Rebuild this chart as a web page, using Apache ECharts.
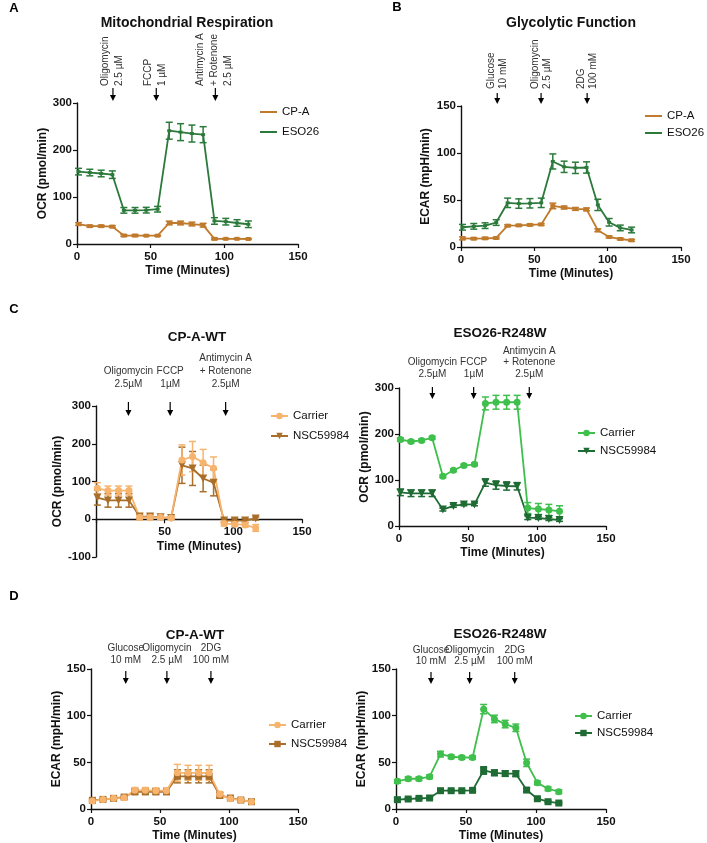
<!DOCTYPE html>
<html><head><meta charset="utf-8">
<script src="https://cdn.jsdelivr.net/npm/echarts/dist/echarts.min.js"></script>
<style>html,body{margin:0;padding:0;background:#fff}#c{width:707px;height:843px}</style>
</head><body><div id="c"></div>
<script>
// ---------------- DATA ----------------
const TIME = [1, 8.7, 16.4, 24, 31.8, 39.4, 47, 54.7, 62.6, 70.3, 78, 85.6, 93.3, 101, 108.6, 116.3];
const X_TICKS = [0, 50, 100, 150];

// Panel A: Mitochondrial Respiration (OCR)
const A_CPA = [42.5, 38, 38, 37, 18, 18, 17.7, 17.7, 44.7, 44.7, 42.5, 40, 11, 11, 11, 10.6];
const A_CPA_ERR = [3, 2, 2, 2, 2, 2, 1, 1, 4, 4, 4, 4, 2, 1, 1, 1];
const A_ESO = [154, 152, 150, 147.5, 71.6, 71.6, 72, 74, 241, 238, 235, 232.6, 49, 47.5, 44.7, 42];
const A_ESO_ERR = [7, 7, 7, 8, 6, 6, 6, 6, 18, 18, 18, 17, 7, 7, 7, 7];
const A_ARROWS = [24.4, 53.8, 93.9];
const A_LABELS = [["Oligomycin", "2.5 \u00b5M"], ["FCCP", "1 \u00b5M"], ["Antimycin A", "+ Rotenone", "2.5 \u00b5M"]];

// Panel B: Glycolytic Function (ECAR)
const B_CPA = [9.2, 8.9, 9.2, 9.6, 22.7, 23, 23.5, 24, 43.7, 42, 40.5, 40, 17.8, 10.7, 8.5, 7.1];
const B_CPA_ERR = [1.5, 1, 1, 1, 1, 1, 1, 1, 3, 1.5, 1.5, 1.5, 1.5, 1, 1, 1];
const B_ESO = [21, 22, 22.7, 26, 47, 46.2, 46.5, 47, 91, 85.3, 84.2, 84.6, 44.8, 26.3, 20.3, 18.1];
const B_ESO_ERR = [3, 3, 3, 3, 5, 5, 5, 5, 8, 6, 6, 6, 6, 4, 3, 3];
const B_ARROWS = [24.7, 54.6, 86];
const B_LABELS = [["Glucose", "10 mM"], ["Oligomycin", "2.5 \u00b5M"], ["2DG", "100 mM"]];

// Panel C left: CP-A-WT OCR
const CL_CAR = [82, 76, 76, 76, 5, 5, 5, 3.5, 157, 166, 150, 135, -11.5, -13, -15, -23];
const CL_CAR_ERR = [15, 12, 12, 12, 7, 7, 5, 4, 40, 40, 35, 30, 6, 6, 6, 9];
const CL_NSC = [57.5, 50, 50, 50, 7, 7, 5, 3.5, 143, 134.5, 108, 97, -3.5, -3.5, -3.5, 2];
const CL_NSC_ERR = [20, 18, 18, 18, 5, 5, 4, 3, 48, 45, 35, 35, 5, 5, 5, 4];
const CL_ARROWS = [23.6, 54, 94.4];
// Panel C right: ESO26-R248W OCR
const CR_CAR = [188, 183.7, 186, 191.7, 108, 121, 131.4, 134, 266.5, 269, 269, 269, 39, 37, 35, 32];
const CR_CAR_ERR = [4, 3, 3, 3, 3, 3, 3, 3, 14, 15, 15, 15, 12, 12, 12, 12];
const CR_NSC = [73, 71, 71, 71, 35.6, 43.6, 47, 47, 94.4, 89, 87, 86.4, 18, 17.4, 15, 13];
const CR_NSC_ERR = [7, 7, 7, 7, 3, 3, 3, 3, 8, 9, 9, 8, 4, 3, 3, 3];
const CR_ARROWS = [24.2, 54.1, 94.4];
const C_LABELS = [["Oligomycin", "2.5\u00b5M"], ["FCCP", "1\u00b5M"], ["Antimycin A", "+ Rotenone", "2.5\u00b5M"]];

// Panel D left: CP-A-WT ECAR
const DL_CAR = [8.5, 10.3, 11.4, 12, 20, 20, 19.6, 19.6, 38.8, 38.8, 38.8, 38.8, 15.7, 11, 9.6, 7.8];
const DL_CAR_ERR = [1, 1, 1, 1, 3, 3, 3, 3, 9, 8, 8, 8, 3, 1, 1, 1];
const DL_NSC = [9.3, 10.3, 11.4, 12.8, 18.5, 18.5, 18.5, 18.5, 35, 35, 35, 35, 14.6, 11.8, 9.6, 7.8];
const DL_NSC_ERR = [1, 1, 1, 1, 3, 3, 3, 3, 7, 7, 7, 7, 3, 1, 1, 1];
const DL_ARROWS = [25.2, 55, 86.9];
// Panel D right: ESO26-R248W ECAR
const DR_CAR = [29.6, 32.4, 32.4, 34.6, 58.8, 56, 55.2, 55.2, 107, 96.5, 91, 87, 49.5, 28, 21.7, 18.5];
const DR_CAR_ERR = [2, 2, 2, 2, 3, 2, 2, 2, 5, 4, 4, 4, 4, 2, 2, 2];
const DR_NSC = [10, 10.7, 11.4, 11.8, 19.6, 19.6, 19.6, 20, 41.3, 38.8, 38, 37.8, 20.3, 11, 7.8, 6.4];
const DR_NSC_ERR = [2, 1, 1, 1, 1, 1, 1, 1, 4, 3, 3, 3, 2, 1, 1, 1];
const DR_ARROWS = [25, 52.6, 84.8];
const D_LABELS = [["Glucose", "10 mM"], ["Oligomycin", "2.5 \u00b5M"], ["2DG", "100 mM"]];

// ---------------- STYLE / LAYOUT ----------------
const FONT = "'Liberation Sans', Arial, Helvetica, sans-serif";
const COL = {
  cpa: '#C07A2C', eso: '#2B7A3B',
  cpaCar: '#F7B46E', cpaNsc: '#A86E2A',
  esoCar: '#3FBF4C', esoNsc: '#1F6B34'
};

const panels = [
  { grid: {left: 77, top: 103, width: 221, height: 141}, y: [0, 300, 100], yName: 'OCR (pmol/min)', yGap: 28,
    arrows: A_ARROWS, labels: A_LABELS, mode: 'v', colSp: 14, colDx: -1, txtOff: -17, arr: [-15, -2],
    legend: {left: 260, top: 105, gap: 6, icon: 'rect'},
    series: [
      {name: 'CP-A', v: A_CPA, e: A_CPA_ERR, c: COL.cpa, sym: 'rect', size: [5, 4]},
      {name: 'ESO26', v: A_ESO, e: A_ESO_ERR, c: COL.eso, sym: 'rect', size: [4, 3]}
    ], legendOrder: [0, 1] },
  { grid: {left: 461, top: 106, width: 220, height: 141}, y: [0, 150, 50], yName: 'ECAR (mpH/min)', yGap: 29,
    arrows: B_ARROWS, labels: B_LABELS, mode: 'v', colSp: 12, colDx: 0.5, txtOff: -17, arr: [-13, -2],
    legend: {left: 645, top: 109, gap: 3, icon: 'rect'},
    series: [
      {name: 'CP-A', v: B_CPA, e: B_CPA_ERR, c: COL.cpa, sym: 'rect', size: [5, 4]},
      {name: 'ESO26', v: B_ESO, e: B_ESO_ERR, c: COL.eso, sym: 'rect', size: [4, 3]}
    ], legendOrder: [0, 1] },
  { grid: {left: 96, top: 406, width: 206, height: 151}, y: [-100, 300, 100], yName: 'OCR (pmol/min)', yGap: 30,
    arrows: CL_ARROWS, labels: C_LABELS, mode: 'h', lineSp: 12.7, txtOff: -17, arr: [-4, 10], hideX0: true,
    legend: {left: 270, top: 409, gap: 6},
    series: [
      {name: 'NSC59984', v: CL_NSC, e: CL_NSC_ERR, c: COL.cpaNsc, sym: 'triangle', size: 8, rot: 180},
      {name: 'Carrier', v: CL_CAR, e: CL_CAR_ERR, c: COL.cpaCar, sym: 'circle', size: 7}
    ], legendOrder: [1, 0] },
  { grid: {left: 399, top: 388, width: 207, height: 138}, y: [0, 300, 100], yName: 'OCR (pmol/min)', yGap: 27,
    arrows: CR_ARROWS, labels: C_LABELS, mode: 'h', lineSp: 11.5, txtOff: -9, arr: [-1, 11],
    legend: {left: 577, top: 426, gap: 4},
    series: [
      {name: 'Carrier', v: CR_CAR, e: CR_CAR_ERR, c: COL.esoCar, sym: 'circle', size: 7},
      {name: 'NSC59984', v: CR_NSC, e: CR_NSC_ERR, c: COL.esoNsc, sym: 'triangle', size: 8, rot: 180}
    ], legendOrder: [0, 1] },
  { grid: {left: 91, top: 669, width: 207, height: 141}, y: [0, 150, 50], yName: 'ECAR (mpH/min)', yGap: 24,
    arrows: DL_ARROWS, labels: D_LABELS, mode: 'h', lineSp: 12, txtOff: -3.5, arr: [2, 15],
    legend: {left: 268, top: 718, gap: 5},
    series: [
      {name: 'NSC59984', v: DL_NSC, e: DL_NSC_ERR, c: COL.cpaNsc, sym: 'rect', size: 7},
      {name: 'Carrier', v: DL_CAR, e: DL_CAR_ERR, c: COL.cpaCar, sym: 'circle', size: 7}
    ], legendOrder: [1, 0] },
  { grid: {left: 396, top: 669, width: 210, height: 141}, y: [0, 150, 50], yName: 'ECAR (mpH/min)', yGap: 24,
    arrows: DR_ARROWS, labels: D_LABELS, mode: 'h', lineSp: 11.5, txtOff: -2.5, arr: [3, 15],
    legend: {left: 574, top: 709, gap: 3},
    series: [
      {name: 'Carrier', v: DR_CAR, e: DR_CAR_ERR, c: COL.esoCar, sym: 'circle', size: 7},
      {name: 'NSC59984', v: DR_NSC, e: DR_NSC_ERR, c: COL.esoNsc, sym: 'rect', size: 7}
    ], legendOrder: [0, 1] }
];

const AX = '#111';
const grids = [], xAxes = [], yAxes = [], series = [], legends = [];

function errRender(color) {
  return function (params, api) {
    const x = api.value(0), lo = api.value(1), hi = api.value(2);
    const p1 = api.coord([x, lo]), p2 = api.coord([x, hi]);
    const s = {stroke: color, lineWidth: 1.5};
    const cap = 3.5;
    return {type: 'group', children: [
      {type: 'line', shape: {x1: p1[0], y1: p1[1], x2: p2[0], y2: p2[1]}, style: s},
      {type: 'line', shape: {x1: p1[0] - cap, y1: p1[1], x2: p1[0] + cap, y2: p1[1]}, style: s},
      {type: 'line', shape: {x1: p2[0] - cap, y1: p2[1], x2: p2[0] + cap, y2: p2[1]}, style: s}
    ]};
  };
}

function annRender(p) {
  return function (params, api) {
    const i = api.value(2);
    const pt = api.coord([api.value(0), p.y[1]]);
    const x = pt[0], top = pt[1];
    const lines = p.labels[i];
    const children = [];
    const ts = {fill: '#333', font: '10px ' + FONT};
    const n = lines.length;
    if (p.mode === 'v') {
      lines.forEach(function (t, k) {
        const cx = x + p.colDx + (k - (n - 1) / 2) * p.colSp;
        children.push({type: 'text', x: cx, y: top + p.txtOff, rotation: Math.PI / 2,
          style: Object.assign({text: t, align: 'left', verticalAlign: 'middle'}, ts)});
      });
    } else {
      lines.forEach(function (t, k) {
        children.push({type: 'text', x: x, y: top + p.txtOff - (n - 1 - k) * p.lineSp,
          style: Object.assign({text: t, align: 'center', verticalAlign: 'bottom'}, ts)});
      });
    }
    const y0 = top + p.arr[0], y1 = top + p.arr[1];
    children.push({type: 'line', shape: {x1: x, y1: y0, x2: x, y2: y1 - 4}, style: {stroke: '#000', lineWidth: 1.2}});
    children.push({type: 'polygon', shape: {points: [[x - 3, y1 - 6], [x + 3, y1 - 6], [x, y1]]}, style: {fill: '#000'}});
    return {type: 'group', children: children};
  };
}

panels.forEach(function (p, gi) {
  grids.push(Object.assign({containLabel: false}, p.grid));
  // x axis sits on y = 0 (shift up when y range includes negatives)
  const xOffset = p.y[0] < 0 ? -p.grid.height * (0 - p.y[0]) / (p.y[1] - p.y[0]) : 0;
  xAxes.push({
    type: 'value', gridIndex: gi, min: 0, max: 150, interval: 50, offset: xOffset,
    name: 'Time (Minutes)', nameLocation: 'middle', nameGap: 21,
    nameTextStyle: {fontFamily: FONT, fontWeight: 'bold', fontSize: 12, color: AX},
    axisLine: {onZero: false, lineStyle: {color: AX, width: 1.4}},
    axisTick: {show: true, length: 4, lineStyle: {color: AX, width: 1.2}},
    axisLabel: {fontFamily: FONT, fontWeight: 'bold', fontSize: 11.5, color: AX, margin: 7,
      formatter: function (v) { return (p.hideX0 && v === 0) ? '' : String(v); }},
    splitLine: {show: false}
  });
  yAxes.push({
    type: 'value', gridIndex: gi, min: p.y[0], max: p.y[1], interval: p.y[2],
    name: p.yName, nameLocation: 'middle', nameGap: p.yGap,
    nameTextStyle: {fontFamily: FONT, fontWeight: 'bold', fontSize: 12, color: AX},
    axisLine: {show: true, onZero: false, lineStyle: {color: AX, width: 1.4}},
    axisTick: {show: true, length: 4, lineStyle: {color: AX, width: 1.2}},
    axisLabel: {fontFamily: FONT, fontWeight: 'bold', fontSize: 11.5, color: AX, margin: 5},
    splitLine: {show: false}
  });
  p.series.forEach(function (s) {
    const uname = s.name + '|' + gi;
    series.push({
      type: 'custom', name: 'err' + uname, xAxisIndex: gi, yAxisIndex: gi, silent: true,
      renderItem: errRender(s.c), encode: {x: 0, y: [1, 2]},
      data: s.v.map(function (v, k) { return [TIME[k], v - s.e[k], v + s.e[k]]; })
    });
    series.push({
      type: 'line', name: uname, xAxisIndex: gi, yAxisIndex: gi,
      data: s.v.map(function (v, k) { return [TIME[k], v]; }),
      symbol: s.sym, symbolSize: s.size, symbolRotate: s.rot || 0, showSymbol: true,
      lineStyle: {color: s.c, width: 1.8}, itemStyle: {color: s.c, borderWidth: 0},
      animation: false
    });
  });
  series.push({
    type: 'custom', name: 'ann' + gi, xAxisIndex: gi, yAxisIndex: gi, silent: true, clip: false,
    renderItem: annRender(p), encode: {x: 0, y: 1},
    data: p.arrows.map(function (x, k) { return [x, p.y[1], k]; })
  });
  const lg = {
    orient: 'vertical', left: p.legend.left, top: p.legend.top, itemGap: p.legend.gap, padding: 0,
    itemWidth: 17, itemHeight: p.legend.icon ? 2 : 8, selectedMode: false,
    textStyle: {fontFamily: FONT, fontSize: 11.5, color: '#111', lineHeight: 14},
    formatter: function (n) { return n.split('|')[0]; },
    data: p.legendOrder.map(function (k) { return p.series[k].name + '|' + gi; })
  };
  if (p.legend.icon) lg.icon = p.legend.icon;
  legends.push(lg);
});

const titles = [
  {t: 'Mitochondrial Respiration', x: 187, y: 23, s: 14},
  {t: 'Glycolytic Function', x: 571, y: 23, s: 14},
  {t: 'CP-A-WT', x: 197, y: 337, s: 13.5},
  {t: 'ESO26-R248W', x: 500, y: 333, s: 13.5},
  {t: 'CP-A-WT', x: 195, y: 635, s: 13.5},
  {t: 'ESO26-R248W', x: 500, y: 634, s: 13.5}
];
const letters = [{t: 'A', x: 14, y: 8}, {t: 'B', x: 397, y: 7}, {t: 'C', x: 14, y: 309}, {t: 'D', x: 14, y: 596}];
const graphic = [];
titles.forEach(function (o) {
  graphic.push({type: 'text', x: o.x, y: o.y, style: {text: o.t, align: 'center', verticalAlign: 'middle',
    font: 'bold ' + o.s + 'px ' + FONT, fill: '#111'}});
});
letters.forEach(function (o) {
  graphic.push({type: 'text', x: o.x, y: o.y, style: {text: o.t, align: 'center', verticalAlign: 'middle',
    font: 'bold 13px ' + FONT, fill: '#000'}});
});

const chart = echarts.init(document.getElementById('c'), null, {renderer: 'canvas'});
chart.setOption({
  animation: false,
  backgroundColor: '#fff',
  grid: grids, xAxis: xAxes, yAxis: yAxes, series: series, legend: legends, graphic: graphic
});
</script></body></html>
